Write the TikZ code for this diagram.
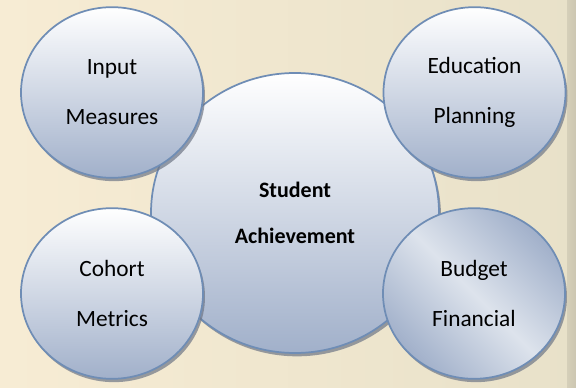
\documentclass[tikz,border=0pt]{standalone}
\usepackage{fontspec}
\setmainfont{Carlito}
\usetikzlibrary{shapes.geometric,shadows}
\definecolor{cream}{HTML}{F7ECD4}
\definecolor{sand}{HTML}{E8E1C9}
\definecolor{rim}{HTML}{6F8DB5}
\definecolor{steel}{HTML}{A1B0CA}
\definecolor{mist}{HTML}{DDE3EC}
\definecolor{shade}{HTML}{6E7686}
\begin{document}
\begin{tikzpicture}[x=0.75pt,y=-0.75pt,
    bubble/.style={ellipse,draw=rim,line width=1.3pt,top color=white,bottom color=steel,
      drop shadow={shadow xshift=1.5pt,shadow yshift=-2.5pt,fill=shade,opacity=0.7},
      minimum width=136.5pt,minimum height=128pt,inner sep=0pt,align=center,
      font=\fontsize{17.5}{37.5}\selectfont},
    hub/.style={bubble,minimum width=216pt,minimum height=210pt,
      font=\bfseries\fontsize{16.5}{35}\selectfont},
    budget/.style={top color=steel,bottom color=steel,middle color=mist,shading angle=-45}]
  % backdrop
  \fill[left color=cream,right color=sand] (0,0) rectangle (576,388);
  \fill[left color=sand!92!black,right color=sand!88!black] (567,0) rectangle (576,388);
  \draw
    (295,213) node[hub] (hub) {Student\\Achievement}
    (112,92.5) node[bubble] (input) {Input\\Measures}
    (474.5,92.5) node[bubble] (edu) {Education\\Planning}
    (112,293.5) node[bubble] (cohort) {Cohort\\Metrics}
    (474,293.5) node[bubble,budget] (budget) {Budget\\Financial};
\end{tikzpicture}
\end{document}
